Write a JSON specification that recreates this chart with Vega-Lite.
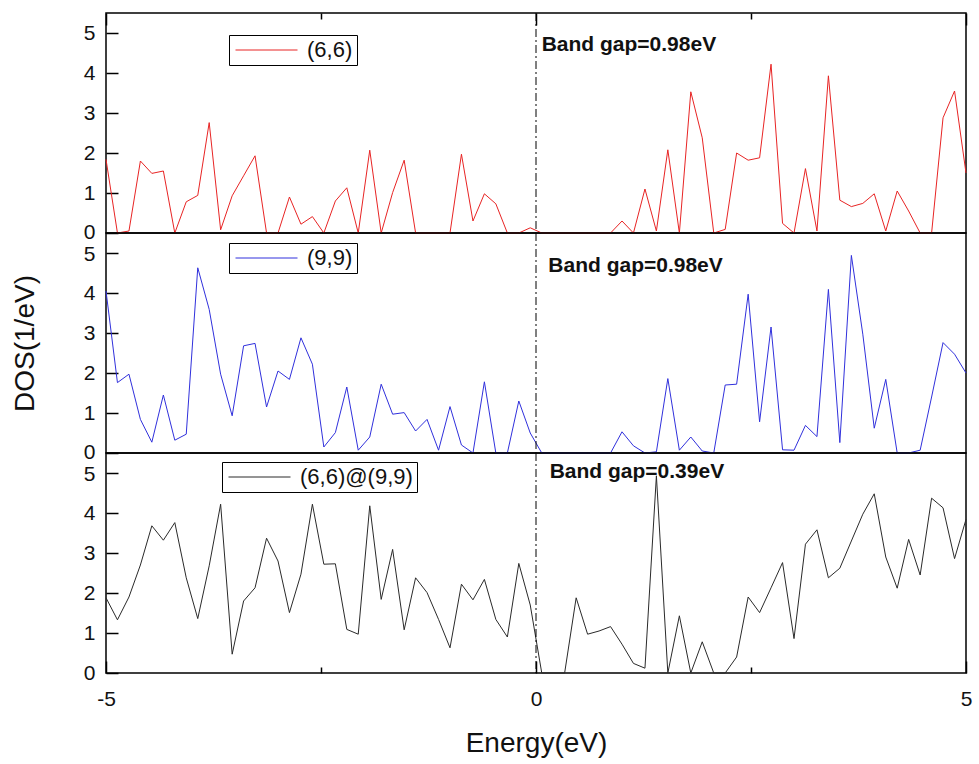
{
  "$schema": "https://vega.github.io/schema/vega-lite/v6.json",
  "padding": {"left": 10, "top": 11, "right": 10, "bottom": 5},
  "spacing": 0,
  "bounds": "flush",
  "config": {
    "font": "Liberation Sans",
    "view": {"stroke": "#000", "strokeWidth": 1.5},
    "axis": {"grid": false, "domain": false, "tickColor": "#000", "tickWidth": 1.5, "labelFont": "Liberation Sans", "labelFontSize": 21, "labelColor": "#111", "labelFlush": false, "titleFont": "Liberation Sans", "titleFontSize": 28, "titleFontWeight": "normal", "titleColor": "#111"},
    "legend": {"title": null, "orient": "none", "symbolType": "stroke", "symbolSize": 3844, "symbolStrokeWidth": 1, "clipHeight": 22, "labelFontSize": 22, "labelFont": "Liberation Sans", "labelColor": "#111", "strokeColor": "#000", "fillColor": "#fff", "padding": 4, "symbolOffset": 2, "labelOffset": 9}
  },
  "datasets": {
    "dos": [
      {"series": "(6,6)", "energy": -5.000, "dos": 1.84},
      {"series": "(6,6)", "energy": -4.867, "dos": 0},
      {"series": "(6,6)", "energy": -4.733, "dos": 0.05},
      {"series": "(6,6)", "energy": -4.600, "dos": 1.80},
      {"series": "(6,6)", "energy": -4.467, "dos": 1.49},
      {"series": "(6,6)", "energy": -4.333, "dos": 1.55},
      {"series": "(6,6)", "energy": -4.200, "dos": 0},
      {"series": "(6,6)", "energy": -4.067, "dos": 0.78},
      {"series": "(6,6)", "energy": -3.933, "dos": 0.94},
      {"series": "(6,6)", "energy": -3.800, "dos": 2.76},
      {"series": "(6,6)", "energy": -3.667, "dos": 0.08},
      {"series": "(6,6)", "energy": -3.533, "dos": 0.93},
      {"series": "(6,6)", "energy": -3.400, "dos": 1.43},
      {"series": "(6,6)", "energy": -3.267, "dos": 1.93},
      {"series": "(6,6)", "energy": -3.133, "dos": 0},
      {"series": "(6,6)", "energy": -3.000, "dos": 0},
      {"series": "(6,6)", "energy": -2.867, "dos": 0.90},
      {"series": "(6,6)", "energy": -2.733, "dos": 0.22},
      {"series": "(6,6)", "energy": -2.600, "dos": 0.41},
      {"series": "(6,6)", "energy": -2.467, "dos": 0},
      {"series": "(6,6)", "energy": -2.333, "dos": 0.80},
      {"series": "(6,6)", "energy": -2.200, "dos": 1.13},
      {"series": "(6,6)", "energy": -2.067, "dos": 0},
      {"series": "(6,6)", "energy": -1.933, "dos": 2.07},
      {"series": "(6,6)", "energy": -1.800, "dos": 0},
      {"series": "(6,6)", "energy": -1.667, "dos": 1.01},
      {"series": "(6,6)", "energy": -1.533, "dos": 1.82},
      {"series": "(6,6)", "energy": -1.400, "dos": 0},
      {"series": "(6,6)", "energy": -1.267, "dos": 0},
      {"series": "(6,6)", "energy": -1.133, "dos": 0},
      {"series": "(6,6)", "energy": -1.000, "dos": 0},
      {"series": "(6,6)", "energy": -0.867, "dos": 1.97},
      {"series": "(6,6)", "energy": -0.733, "dos": 0.30},
      {"series": "(6,6)", "energy": -0.600, "dos": 0.98},
      {"series": "(6,6)", "energy": -0.467, "dos": 0.73},
      {"series": "(6,6)", "energy": -0.333, "dos": 0},
      {"series": "(6,6)", "energy": -0.200, "dos": 0},
      {"series": "(6,6)", "energy": -0.067, "dos": 0.13},
      {"series": "(6,6)", "energy": 0.067, "dos": 0},
      {"series": "(6,6)", "energy": 0.200, "dos": 0},
      {"series": "(6,6)", "energy": 0.333, "dos": 0},
      {"series": "(6,6)", "energy": 0.467, "dos": 0},
      {"series": "(6,6)", "energy": 0.600, "dos": 0},
      {"series": "(6,6)", "energy": 0.733, "dos": 0},
      {"series": "(6,6)", "energy": 0.867, "dos": 0},
      {"series": "(6,6)", "energy": 1.000, "dos": 0.30},
      {"series": "(6,6)", "energy": 1.133, "dos": 0},
      {"series": "(6,6)", "energy": 1.267, "dos": 1.10},
      {"series": "(6,6)", "energy": 1.400, "dos": 0.05},
      {"series": "(6,6)", "energy": 1.533, "dos": 2.08},
      {"series": "(6,6)", "energy": 1.667, "dos": 0},
      {"series": "(6,6)", "energy": 1.800, "dos": 3.53},
      {"series": "(6,6)", "energy": 1.933, "dos": 2.38},
      {"series": "(6,6)", "energy": 2.067, "dos": 0},
      {"series": "(6,6)", "energy": 2.200, "dos": 0.09},
      {"series": "(6,6)", "energy": 2.333, "dos": 2.00},
      {"series": "(6,6)", "energy": 2.467, "dos": 1.82},
      {"series": "(6,6)", "energy": 2.600, "dos": 1.88},
      {"series": "(6,6)", "energy": 2.733, "dos": 4.22},
      {"series": "(6,6)", "energy": 2.867, "dos": 0.24},
      {"series": "(6,6)", "energy": 3.000, "dos": 0},
      {"series": "(6,6)", "energy": 3.133, "dos": 1.61},
      {"series": "(6,6)", "energy": 3.267, "dos": 0.05},
      {"series": "(6,6)", "energy": 3.400, "dos": 3.93},
      {"series": "(6,6)", "energy": 3.533, "dos": 0.82},
      {"series": "(6,6)", "energy": 3.667, "dos": 0.66},
      {"series": "(6,6)", "energy": 3.800, "dos": 0.74},
      {"series": "(6,6)", "energy": 3.933, "dos": 0.98},
      {"series": "(6,6)", "energy": 4.067, "dos": 0.05},
      {"series": "(6,6)", "energy": 4.200, "dos": 1.05},
      {"series": "(6,6)", "energy": 4.333, "dos": 0.55},
      {"series": "(6,6)", "energy": 4.467, "dos": 0},
      {"series": "(6,6)", "energy": 4.600, "dos": 0},
      {"series": "(6,6)", "energy": 4.733, "dos": 2.88},
      {"series": "(6,6)", "energy": 4.867, "dos": 3.55},
      {"series": "(6,6)", "energy": 5.000, "dos": 1.50},

      {"series": "(9,9)", "energy": -5.000, "dos": 4.05},
      {"series": "(9,9)", "energy": -4.867, "dos": 1.76},
      {"series": "(9,9)", "energy": -4.733, "dos": 1.97},
      {"series": "(9,9)", "energy": -4.600, "dos": 0.84},
      {"series": "(9,9)", "energy": -4.467, "dos": 0.27},
      {"series": "(9,9)", "energy": -4.333, "dos": 1.45},
      {"series": "(9,9)", "energy": -4.200, "dos": 0.32},
      {"series": "(9,9)", "energy": -4.067, "dos": 0.47},
      {"series": "(9,9)", "energy": -3.933, "dos": 4.63},
      {"series": "(9,9)", "energy": -3.800, "dos": 3.59},
      {"series": "(9,9)", "energy": -3.667, "dos": 1.97},
      {"series": "(9,9)", "energy": -3.533, "dos": 0.93},
      {"series": "(9,9)", "energy": -3.400, "dos": 2.68},
      {"series": "(9,9)", "energy": -3.267, "dos": 2.74},
      {"series": "(9,9)", "energy": -3.133, "dos": 1.15},
      {"series": "(9,9)", "energy": -3.000, "dos": 2.05},
      {"series": "(9,9)", "energy": -2.867, "dos": 1.84},
      {"series": "(9,9)", "energy": -2.733, "dos": 2.88},
      {"series": "(9,9)", "energy": -2.600, "dos": 2.22},
      {"series": "(9,9)", "energy": -2.467, "dos": 0.15},
      {"series": "(9,9)", "energy": -2.333, "dos": 0.51},
      {"series": "(9,9)", "energy": -2.200, "dos": 1.65},
      {"series": "(9,9)", "energy": -2.067, "dos": 0.07},
      {"series": "(9,9)", "energy": -1.933, "dos": 0.40},
      {"series": "(9,9)", "energy": -1.800, "dos": 1.72},
      {"series": "(9,9)", "energy": -1.667, "dos": 0.97},
      {"series": "(9,9)", "energy": -1.533, "dos": 1.01},
      {"series": "(9,9)", "energy": -1.400, "dos": 0.55},
      {"series": "(9,9)", "energy": -1.267, "dos": 0.84},
      {"series": "(9,9)", "energy": -1.133, "dos": 0.07},
      {"series": "(9,9)", "energy": -1.000, "dos": 1.16},
      {"series": "(9,9)", "energy": -0.867, "dos": 0.20},
      {"series": "(9,9)", "energy": -0.733, "dos": 0},
      {"series": "(9,9)", "energy": -0.600, "dos": 1.78},
      {"series": "(9,9)", "energy": -0.467, "dos": 0},
      {"series": "(9,9)", "energy": -0.333, "dos": 0},
      {"series": "(9,9)", "energy": -0.200, "dos": 1.30},
      {"series": "(9,9)", "energy": -0.067, "dos": 0.50},
      {"series": "(9,9)", "energy": 0.067, "dos": 0},
      {"series": "(9,9)", "energy": 0.200, "dos": 0},
      {"series": "(9,9)", "energy": 0.333, "dos": 0},
      {"series": "(9,9)", "energy": 0.467, "dos": 0},
      {"series": "(9,9)", "energy": 0.600, "dos": 0},
      {"series": "(9,9)", "energy": 0.733, "dos": 0},
      {"series": "(9,9)", "energy": 0.867, "dos": 0},
      {"series": "(9,9)", "energy": 1.000, "dos": 0.53},
      {"series": "(9,9)", "energy": 1.133, "dos": 0.18},
      {"series": "(9,9)", "energy": 1.267, "dos": 0},
      {"series": "(9,9)", "energy": 1.400, "dos": 0.03},
      {"series": "(9,9)", "energy": 1.533, "dos": 1.86},
      {"series": "(9,9)", "energy": 1.667, "dos": 0.07},
      {"series": "(9,9)", "energy": 1.800, "dos": 0.40},
      {"series": "(9,9)", "energy": 1.933, "dos": 0.05},
      {"series": "(9,9)", "energy": 2.067, "dos": 0},
      {"series": "(9,9)", "energy": 2.200, "dos": 1.70},
      {"series": "(9,9)", "energy": 2.333, "dos": 1.72},
      {"series": "(9,9)", "energy": 2.467, "dos": 3.97},
      {"series": "(9,9)", "energy": 2.600, "dos": 0.78},
      {"series": "(9,9)", "energy": 2.733, "dos": 3.15},
      {"series": "(9,9)", "energy": 2.867, "dos": 0.08},
      {"series": "(9,9)", "energy": 3.000, "dos": 0.07},
      {"series": "(9,9)", "energy": 3.133, "dos": 0.69},
      {"series": "(9,9)", "energy": 3.267, "dos": 0.41},
      {"series": "(9,9)", "energy": 3.400, "dos": 4.09},
      {"series": "(9,9)", "energy": 3.533, "dos": 0.26},
      {"series": "(9,9)", "energy": 3.667, "dos": 4.94},
      {"series": "(9,9)", "energy": 3.800, "dos": 2.97},
      {"series": "(9,9)", "energy": 3.933, "dos": 0.62},
      {"series": "(9,9)", "energy": 4.067, "dos": 1.84},
      {"series": "(9,9)", "energy": 4.200, "dos": 0},
      {"series": "(9,9)", "energy": 4.333, "dos": 0},
      {"series": "(9,9)", "energy": 4.467, "dos": 0.07},
      {"series": "(9,9)", "energy": 4.600, "dos": 1.40},
      {"series": "(9,9)", "energy": 4.733, "dos": 2.76},
      {"series": "(9,9)", "energy": 4.867, "dos": 2.47},
      {"series": "(9,9)", "energy": 5.000, "dos": 2.00},

      {"series": "(6,6)@(9,9)", "energy": -5.000, "dos": 1.88},
      {"series": "(6,6)@(9,9)", "energy": -4.867, "dos": 1.33},
      {"series": "(6,6)@(9,9)", "energy": -4.733, "dos": 1.90},
      {"series": "(6,6)@(9,9)", "energy": -4.600, "dos": 2.70},
      {"series": "(6,6)@(9,9)", "energy": -4.467, "dos": 3.68},
      {"series": "(6,6)@(9,9)", "energy": -4.333, "dos": 3.32},
      {"series": "(6,6)@(9,9)", "energy": -4.200, "dos": 3.76},
      {"series": "(6,6)@(9,9)", "energy": -4.067, "dos": 2.38},
      {"series": "(6,6)@(9,9)", "energy": -3.933, "dos": 1.36},
      {"series": "(6,6)@(9,9)", "energy": -3.800, "dos": 2.68},
      {"series": "(6,6)@(9,9)", "energy": -3.667, "dos": 4.22},
      {"series": "(6,6)@(9,9)", "energy": -3.533, "dos": 0.47},
      {"series": "(6,6)@(9,9)", "energy": -3.400, "dos": 1.80},
      {"series": "(6,6)@(9,9)", "energy": -3.267, "dos": 2.13},
      {"series": "(6,6)@(9,9)", "energy": -3.133, "dos": 3.37},
      {"series": "(6,6)@(9,9)", "energy": -3.000, "dos": 2.80},
      {"series": "(6,6)@(9,9)", "energy": -2.867, "dos": 1.51},
      {"series": "(6,6)@(9,9)", "energy": -2.733, "dos": 2.47},
      {"series": "(6,6)@(9,9)", "energy": -2.600, "dos": 4.22},
      {"series": "(6,6)@(9,9)", "energy": -2.467, "dos": 2.72},
      {"series": "(6,6)@(9,9)", "energy": -2.333, "dos": 2.73},
      {"series": "(6,6)@(9,9)", "energy": -2.200, "dos": 1.09},
      {"series": "(6,6)@(9,9)", "energy": -2.067, "dos": 0.97},
      {"series": "(6,6)@(9,9)", "energy": -1.933, "dos": 4.18},
      {"series": "(6,6)@(9,9)", "energy": -1.800, "dos": 1.84},
      {"series": "(6,6)@(9,9)", "energy": -1.667, "dos": 3.09},
      {"series": "(6,6)@(9,9)", "energy": -1.533, "dos": 1.08},
      {"series": "(6,6)@(9,9)", "energy": -1.400, "dos": 2.38},
      {"series": "(6,6)@(9,9)", "energy": -1.267, "dos": 2.01},
      {"series": "(6,6)@(9,9)", "energy": -1.133, "dos": 1.34},
      {"series": "(6,6)@(9,9)", "energy": -1.000, "dos": 0.63},
      {"series": "(6,6)@(9,9)", "energy": -0.867, "dos": 2.22},
      {"series": "(6,6)@(9,9)", "energy": -0.733, "dos": 1.83},
      {"series": "(6,6)@(9,9)", "energy": -0.600, "dos": 2.34},
      {"series": "(6,6)@(9,9)", "energy": -0.467, "dos": 1.34},
      {"series": "(6,6)@(9,9)", "energy": -0.333, "dos": 0.90},
      {"series": "(6,6)@(9,9)", "energy": -0.200, "dos": 2.74},
      {"series": "(6,6)@(9,9)", "energy": -0.067, "dos": 1.70},
      {"series": "(6,6)@(9,9)", "energy": 0.067, "dos": 0},
      {"series": "(6,6)@(9,9)", "energy": 0.200, "dos": 0},
      {"series": "(6,6)@(9,9)", "energy": 0.333, "dos": 0},
      {"series": "(6,6)@(9,9)", "energy": 0.467, "dos": 1.88},
      {"series": "(6,6)@(9,9)", "energy": 0.600, "dos": 0.97},
      {"series": "(6,6)@(9,9)", "energy": 0.733, "dos": 1.05},
      {"series": "(6,6)@(9,9)", "energy": 0.867, "dos": 1.16},
      {"series": "(6,6)@(9,9)", "energy": 1.000, "dos": 0.72},
      {"series": "(6,6)@(9,9)", "energy": 1.133, "dos": 0.24},
      {"series": "(6,6)@(9,9)", "energy": 1.267, "dos": 0.12},
      {"series": "(6,6)@(9,9)", "energy": 1.400, "dos": 4.93},
      {"series": "(6,6)@(9,9)", "energy": 1.533, "dos": 0},
      {"series": "(6,6)@(9,9)", "energy": 1.667, "dos": 1.43},
      {"series": "(6,6)@(9,9)", "energy": 1.800, "dos": 0},
      {"series": "(6,6)@(9,9)", "energy": 1.933, "dos": 0.78},
      {"series": "(6,6)@(9,9)", "energy": 2.067, "dos": 0},
      {"series": "(6,6)@(9,9)", "energy": 2.200, "dos": 0},
      {"series": "(6,6)@(9,9)", "energy": 2.333, "dos": 0.40},
      {"series": "(6,6)@(9,9)", "energy": 2.467, "dos": 1.90},
      {"series": "(6,6)@(9,9)", "energy": 2.600, "dos": 1.51},
      {"series": "(6,6)@(9,9)", "energy": 2.733, "dos": 2.13},
      {"series": "(6,6)@(9,9)", "energy": 2.867, "dos": 2.76},
      {"series": "(6,6)@(9,9)", "energy": 3.000, "dos": 0.86},
      {"series": "(6,6)@(9,9)", "energy": 3.133, "dos": 3.22},
      {"series": "(6,6)@(9,9)", "energy": 3.267, "dos": 3.58},
      {"series": "(6,6)@(9,9)", "energy": 3.400, "dos": 2.38},
      {"series": "(6,6)@(9,9)", "energy": 3.533, "dos": 2.62},
      {"series": "(6,6)@(9,9)", "energy": 3.667, "dos": 3.30},
      {"series": "(6,6)@(9,9)", "energy": 3.800, "dos": 3.97},
      {"series": "(6,6)@(9,9)", "energy": 3.933, "dos": 4.48},
      {"series": "(6,6)@(9,9)", "energy": 4.067, "dos": 2.90},
      {"series": "(6,6)@(9,9)", "energy": 4.200, "dos": 2.12},
      {"series": "(6,6)@(9,9)", "energy": 4.333, "dos": 3.34},
      {"series": "(6,6)@(9,9)", "energy": 4.467, "dos": 2.45},
      {"series": "(6,6)@(9,9)", "energy": 4.600, "dos": 4.37},
      {"series": "(6,6)@(9,9)", "energy": 4.733, "dos": 4.13},
      {"series": "(6,6)@(9,9)", "energy": 4.867, "dos": 2.86},
      {"series": "(6,6)@(9,9)", "energy": 5.000, "dos": 3.84}
    ],
    "gaps": [
      {"panel": "top", "energy": 0.066, "dos": 4.55, "label": "Band gap=0.98eV"},
      {"panel": "mid", "energy": 0.143, "dos": 4.53, "label": "Band gap=0.98eV"},
      {"panel": "bot", "energy": 0.159, "dos": 4.875, "label": "Band gap=0.39eV"}
    ],
    "zero": [{"energy": 0}]
  },
  "resolve": {"scale": {"color": "independent"}, "legend": {"color": "independent"}},
  "vconcat": [
    {
      "width": 860, "height": 220,
      "layer": [
        {
          "data": {"name": "dos"},
          "transform": [{"filter": "datum.series === '(6,6)'"}],
          "mark": {"type": "line", "strokeWidth": 1},
          "encoding": {
            "x": {"field": "energy", "type": "quantitative", "scale": {"domain": [-5, 5], "nice": false, "zero": false},
                  "axis": {"orient": "top", "title": null, "values": [-5, -2.5, 0, 2.5, 5], "labels": false,
                           "tickSize": {"condition": {"test": "datum.value % 5 === 0", "value": -12}, "value": -6}}},
            "y": {"field": "dos", "type": "quantitative", "scale": {"domain": [0, 5.5], "nice": false},
                  "axis": {"title": null, "values": [0, 0.5, 1, 1.5, 2, 2.5, 3, 3.5, 4, 4.5, 5],
                           "labelExpr": "datum.value % 1 === 0 ? datum.label : ''", "labelPadding": 23,
                           "labelOffset": {"condition": {"test": "datum.value === 0", "value": -1}, "value": 0},
                           "tickSize": {"condition": {"test": "datum.value % 1 === 0", "value": -12}, "value": -6}}},
            "color": {"field": "series", "type": "nominal", "scale": {"domain": ["(6,6)"], "range": ["#e82424"]},
                      "legend": {"legendX": 123, "legendY": 22}}
          }
        },
        {
          "data": {"name": "zero"},
          "mark": {"type": "rule", "color": "#000", "strokeWidth": 1, "strokeDash": [8, 3, 2, 3]},
          "encoding": {"x": {"field": "energy", "type": "quantitative"}}
        },
        {
          "data": {"name": "gaps"},
          "transform": [{"filter": "datum.panel === 'top'"}],
          "mark": {"type": "text", "align": "left", "baseline": "alphabetic", "fontSize": 21, "fontWeight": "bold", "color": "#111"},
          "encoding": {
            "x": {"field": "energy", "type": "quantitative"},
            "y": {"field": "dos", "type": "quantitative"},
            "text": {"field": "label"}
          }
        }
      ]
    },
    {
      "width": 860, "height": 220,
      "layer": [
        {
          "data": {"name": "dos"},
          "transform": [{"filter": "datum.series === '(9,9)'"}],
          "mark": {"type": "line", "strokeWidth": 1},
          "encoding": {
            "x": {"field": "energy", "type": "quantitative", "scale": {"domain": [-5, 5], "nice": false, "zero": false}, "axis": null},
            "y": {"field": "dos", "type": "quantitative", "scale": {"domain": [0, 5.5], "nice": false},
                  "axis": {"title": "DOS(1/eV)", "titlePadding": 44, "values": [0, 0.5, 1, 1.5, 2, 2.5, 3, 3.5, 4, 4.5, 5],
                           "labelExpr": "datum.value % 1 === 0 ? datum.label : ''", "labelPadding": 23,
                           "labelOffset": {"condition": [{"test": "datum.value === 0", "value": -1}, {"test": "datum.value === 5", "value": 1}], "value": 0},
                           "tickSize": {"condition": {"test": "datum.value % 1 === 0", "value": -12}, "value": -6}}},
            "color": {"field": "series", "type": "nominal", "scale": {"domain": ["(9,9)"], "range": ["#3030dc"]},
                      "legend": {"legendX": 123, "legendY": 10}}
          }
        },
        {
          "data": {"name": "zero"},
          "mark": {"type": "rule", "color": "#000", "strokeWidth": 1, "strokeDash": [8, 3, 2, 3]},
          "encoding": {"x": {"field": "energy", "type": "quantitative"}}
        },
        {
          "data": {"name": "gaps"},
          "transform": [{"filter": "datum.panel === 'mid'"}],
          "mark": {"type": "text", "align": "left", "baseline": "alphabetic", "fontSize": 21, "fontWeight": "bold", "color": "#111"},
          "encoding": {
            "x": {"field": "energy", "type": "quantitative"},
            "y": {"field": "dos", "type": "quantitative"},
            "text": {"field": "label"}
          }
        }
      ]
    },
    {
      "width": 860, "height": 220,
      "layer": [
        {
          "data": {"name": "dos"},
          "transform": [{"filter": "datum.series === '(6,6)@(9,9)'"}],
          "mark": {"type": "line", "strokeWidth": 1},
          "encoding": {
            "x": {"field": "energy", "type": "quantitative", "scale": {"domain": [-5, 5], "nice": false, "zero": false},
                  "axis": {"orient": "bottom", "title": "Energy(eV)", "titlePadding": 20, "values": [-5, -2.5, 0, 2.5, 5],
                           "labelExpr": "datum.value % 5 === 0 ? '' + datum.value : ''", "labelPadding": 27,
                           "tickSize": {"condition": {"test": "datum.value % 5 === 0", "value": -12}, "value": -6}}},
            "y": {"field": "dos", "type": "quantitative", "scale": {"domain": [0, 5.5], "nice": false},
                  "axis": {"title": null, "values": [0, 0.5, 1, 1.5, 2, 2.5, 3, 3.5, 4, 4.5, 5],
                           "labelExpr": "datum.value % 1 === 0 ? datum.label : ''", "labelPadding": 23,
                           "labelOffset": {"condition": {"test": "datum.value === 5", "value": 1}, "value": 0},
                           "tickSize": {"condition": {"test": "datum.value % 1 === 0", "value": -12}, "value": -6}}},
            "color": {"field": "series", "type": "nominal", "scale": {"domain": ["(6,6)@(9,9)"], "range": ["#2a2a2a"]},
                      "legend": {"legendX": 116, "legendY": 9}}
          }
        },
        {
          "data": {"name": "zero"},
          "mark": {"type": "rule", "color": "#000", "strokeWidth": 1, "strokeDash": [8, 3, 2, 3]},
          "encoding": {"x": {"field": "energy", "type": "quantitative"}}
        },
        {
          "data": {"name": "gaps"},
          "transform": [{"filter": "datum.panel === 'bot'"}],
          "mark": {"type": "text", "align": "left", "baseline": "alphabetic", "fontSize": 21, "fontWeight": "bold", "color": "#111"},
          "encoding": {
            "x": {"field": "energy", "type": "quantitative"},
            "y": {"field": "dos", "type": "quantitative"},
            "text": {"field": "label"}
          }
        }
      ]
    }
  ]
}
